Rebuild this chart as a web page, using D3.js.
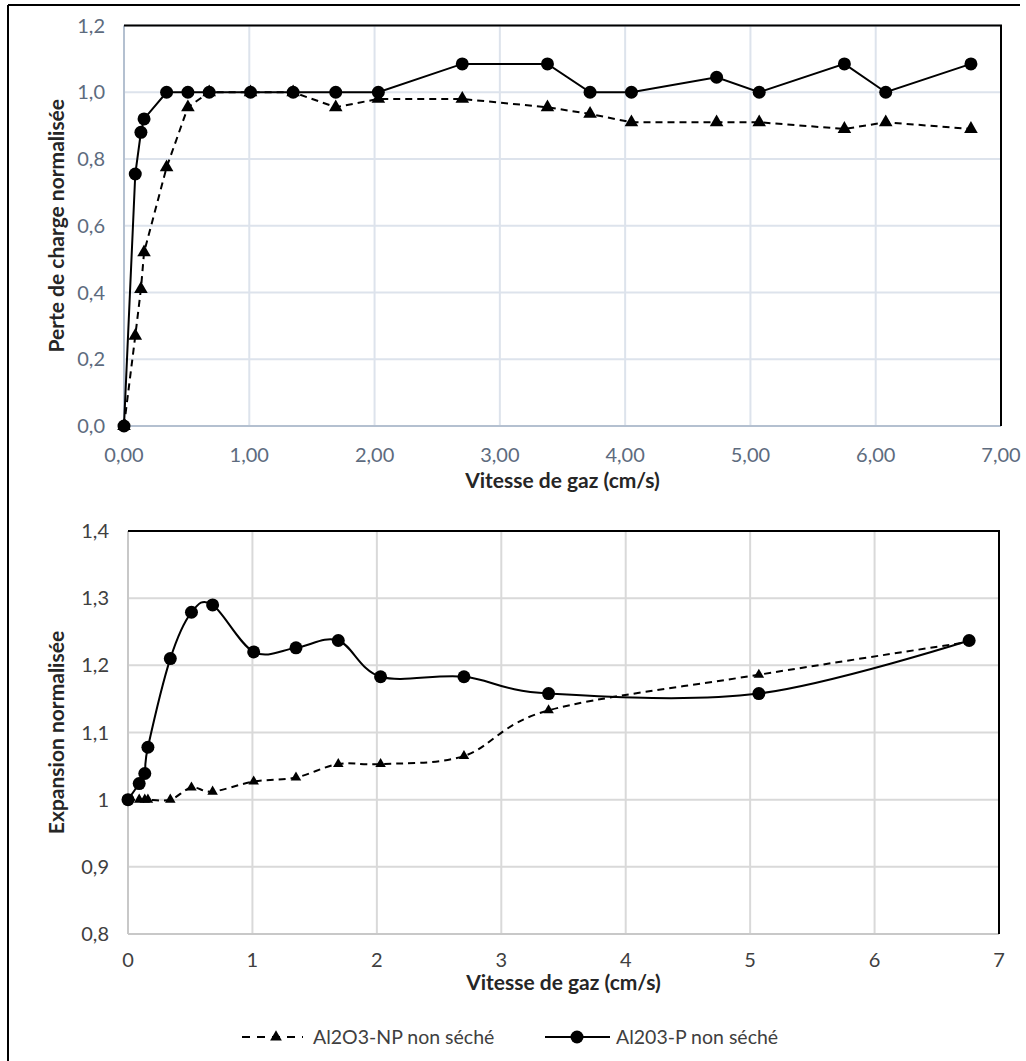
<!DOCTYPE html>
<html><head><meta charset="utf-8">
<script src="https://cdn.jsdelivr.net/npm/d3@7"></script>
<style>
body{margin:0;background:#fff;}
text{font-family:Lato,"Open Sans",sans-serif;}
</style></head>
<body><svg id="c" width="1026" height="1061"></svg>
<script>
// ---- data ----
const xVals = [0, 0.09, 0.135, 0.16, 0.34, 0.51, 0.68, 1.01, 1.35, 1.69, 2.03, 2.70, 3.38, 3.72, 4.05, 4.73, 5.07, 5.75, 6.08, 6.76];
const perteNP = [0, 0.27, 0.41, 0.52, 0.775, 0.955, 1.0, 1.0, 1.0, 0.955, 0.98, 0.98, 0.955, 0.935, 0.91, 0.91, 0.91, 0.89, 0.91, 0.89];
const perteP  = [0, 0.755, 0.88, 0.92, 1.0, 1.0, 1.0, 1.0, 1.0, 1.0, 1.0, 1.085, 1.085, 1.0, 1.0, 1.045, 1.0, 1.085, 1.0, 1.085];

const xExp = [0, 0.09, 0.135, 0.16, 0.34, 0.51, 0.68, 1.01, 1.35, 1.69, 2.03, 2.70, 3.38, 5.07, 6.76];
const expNP = [1.0, 1.0, 1.0, 1.0, 1.0, 1.018, 1.012, 1.027, 1.033, 1.053, 1.053, 1.065, 1.133, 1.186, 1.235];
const expP  = [1.0, 1.024, 1.039, 1.078, 1.21, 1.279, 1.29, 1.22, 1.226, 1.237, 1.183, 1.183, 1.158, 1.158, 1.237];

const topXTicks = [0,1,2,3,4,5,6,7];
const topYTicks = [0,0.2,0.4,0.6,0.8,1.0,1.2];
const botXTicks = [0,1,2,3,4,5,6,7];
const botYTicks = [0.8,0.9,1.0,1.1,1.2,1.3,1.4];

const seriesNames = ["Al2O3-NP non séché", "Al203-P non séché"];
const xTitle = "Vitesse de gaz (cm/s)";
const yTitleTop = "Perte de charge normalisée";
const yTitleBot = "Expansion normalisée";

const svg = d3.select("#c");
const fmt = (d, n) => d.toFixed(n).replace(".", ",");

// outer frame (top & left)
svg.append("line").attr("x1",8).attr("x2",1020).attr("y1",5).attr("y2",5).attr("stroke","#000").attr("stroke-width",2);
svg.append("line").attr("x1",8).attr("x2",8).attr("y1",5).attr("y2",1061).attr("stroke","#000").attr("stroke-width",2);

const tri = d3.symbol().type(d3.symbolTriangle);

function panel(opt){
  const x = d3.scaleLinear().domain([0,7]).range([opt.l, opt.r]);
  const y = d3.scaleLinear().domain(opt.ydom).range([opt.b, opt.t]);
  const g = svg.append("g");
  // grid
  g.selectAll(".vg").data(opt.xt.slice(1)).enter().append("line")
    .attr("x1",d=>x(d)).attr("x2",d=>x(d)).attr("y1",opt.t).attr("y2",opt.b)
    .attr("stroke",opt.grid).attr("stroke-width",2);
  g.selectAll(".hg").data(opt.yt.slice(1)).enter().append("line")
    .attr("x1",opt.l).attr("x2",opt.r).attr("y1",d=>y(d)).attr("y2",d=>y(d))
    .attr("stroke",opt.grid).attr("stroke-width",2);
  // axis lines
  g.append("line").attr("x1",opt.l).attr("x2",opt.l).attr("y1",opt.t).attr("y2",opt.b).attr("stroke",opt.axis).attr("stroke-width",2);
  g.append("line").attr("x1",opt.l).attr("x2",opt.r).attr("y1",opt.b).attr("y2",opt.b).attr("stroke",opt.axis).attr("stroke-width",2);
  // black plot border top/right
  g.append("path").attr("d",`M${opt.l},${opt.t}H${opt.r}V${opt.b}`).attr("fill","none").attr("stroke","#000").attr("stroke-width",2);
  // tick labels
  g.selectAll(".xl").data(opt.xt).enter().append("text")
    .attr("x",d=>x(d)).attr("y",opt.b+opt.xlOff).attr("text-anchor","middle")
    .attr("font-size",opt.fs).attr("fill",opt.tc).text(d=>opt.xf(d));
  g.selectAll(".yl").data(opt.yt).enter().append("text")
    .attr("x",opt.l-opt.ylOff).attr("y",d=>y(d)).attr("dy","0.35em").attr("text-anchor","end")
    .attr("font-size",opt.fs).attr("fill",opt.tc).text(d=>opt.yf(d));
  // titles
  g.append("text").attr("x",(opt.l+opt.r)/2).attr("y",opt.xtY).attr("text-anchor","middle")
    .attr("font-size",21).attr("font-weight","bold").attr("fill","#262626").text(xTitle);
  g.append("text").attr("transform",`translate(64,${(opt.t+opt.b)/2}) rotate(-90)`).attr("text-anchor","middle")
    .attr("font-size",21).attr("font-weight","bold").attr("fill","#262626").text(opt.ytitle);
  // lines
  const line = d3.line().x((d,i)=>x(opt.xs[i])).y(d=>y(d));
  if(opt.smooth) line.curve(d3.curveCardinal.tension(0));
  g.append("path").attr("d",line(opt.np)).attr("fill","none").attr("stroke","#000")
    .attr("stroke-width",2).attr("stroke-dasharray","7,5");
  g.append("path").attr("d",line(opt.p)).attr("fill","none").attr("stroke","#000").attr("stroke-width",2);
  // markers
  g.selectAll(".tri").data(opt.np).enter().append("path")
    .attr("d",tri.size(opt.triSize)()).attr("fill","#000")
    .attr("transform",(d,i)=>`translate(${x(opt.xs[i])},${y(d)})`);
  g.selectAll(".cir").data(opt.p).enter().append("circle")
    .attr("cx",(d,i)=>x(opt.xs[i])).attr("cy",d=>y(d)).attr("r",opt.cr).attr("fill","#000");
}

panel({l:124,r:1001,t:25.5,b:426,ydom:[0,1.2],xt:topXTicks,yt:topYTicks,
  grid:"#dde3ec",axis:"#b4c0d0",tc:"#5d6b7e",fs:20,xlOff:36,ylOff:19,xtY:488,
  xf:d=>fmt(d,2),yf:d=>fmt(d,1),ytitle:yTitleTop,xs:xVals,np:perteNP,p:perteP,
  smooth:false,triSize:80,cr:6.5});

panel({l:128,r:999,t:531,b:934,ydom:[0.8,1.4],xt:botXTicks,yt:botYTicks,
  grid:"#d9d9d9",axis:"#c8c8c8",tc:"#404040",fs:20,xlOff:33,ylOff:19,xtY:990,
  xf:d=>String(d),yf:d=>(Math.abs(d-1)<1e-9?"1":fmt(d,1)),ytitle:yTitleBot,xs:xExp,np:expNP,p:expP,
  smooth:true,triSize:48,cr:6.5});

// legend
const lg = svg.append("g");
const ly = 1037;
lg.append("line").attr("x1",242).attr("x2",303).attr("y1",ly).attr("y2",ly).attr("stroke","#000").attr("stroke-width",2).attr("stroke-dasharray","8,7");
lg.append("path").attr("d",tri.size(60)()).attr("transform",`translate(276,${ly})`).attr("fill","#000");
lg.append("text").attr("x",313).attr("y",ly).attr("dy","0.35em").attr("font-size",19.5).attr("fill","#404040").text(seriesNames[0]);
lg.append("line").attr("x1",545).attr("x2",610).attr("y1",ly).attr("y2",ly).attr("stroke","#000").attr("stroke-width",2);
lg.append("circle").attr("cx",577).attr("cy",ly).attr("r",6.5).attr("fill","#000");
lg.append("text").attr("x",616).attr("y",ly).attr("dy","0.35em").attr("font-size",19.5).attr("fill","#404040").text(seriesNames[1]);
</script></body></html>
